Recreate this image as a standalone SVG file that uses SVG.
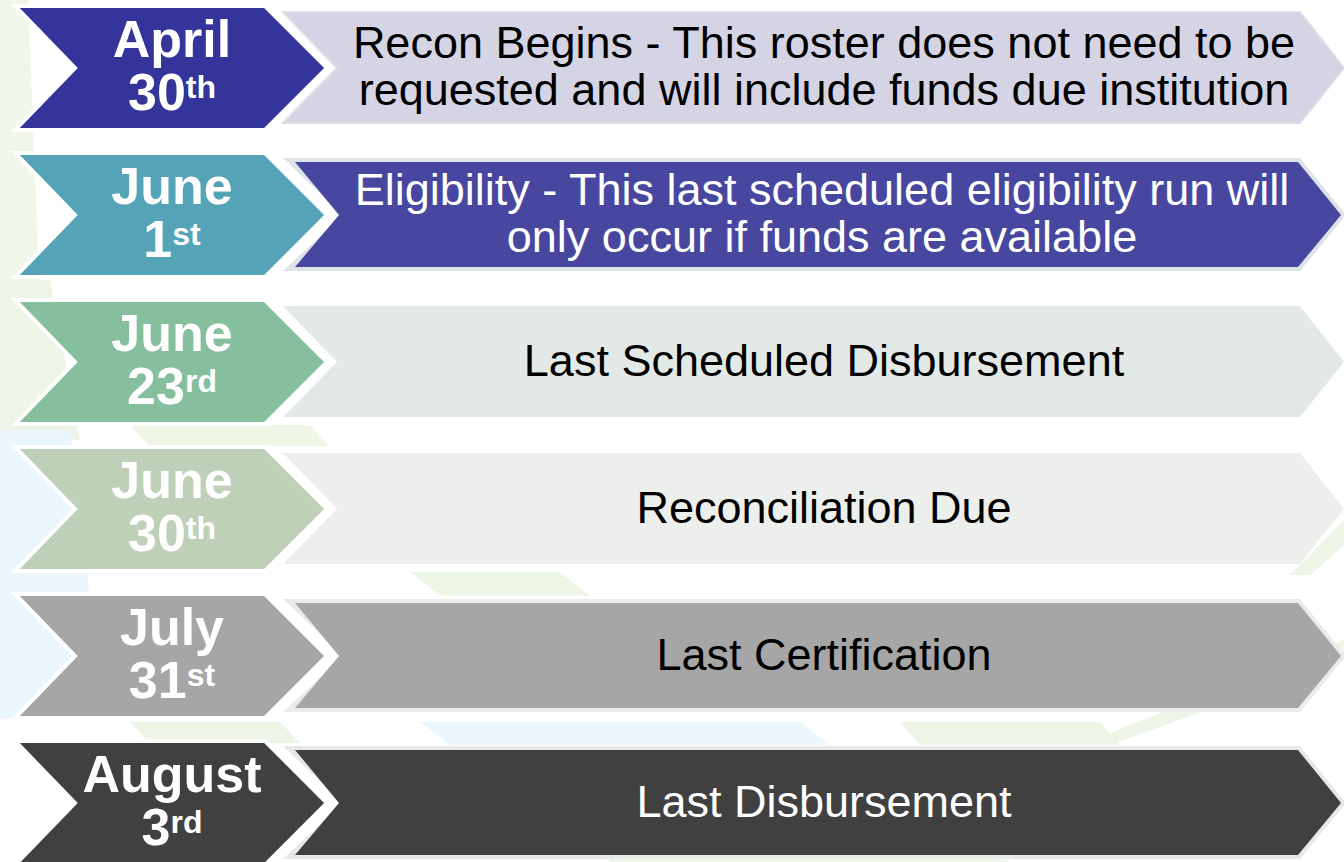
<svg xmlns="http://www.w3.org/2000/svg" width="1344" height="862" viewBox="0 0 1344 862">
<style>
.date{font-family:"Liberation Sans",Arial,sans-serif;font-weight:bold;font-size:52px;fill:#ffffff;text-anchor:middle}
.sup{font-size:32px}
.desc{font-family:"Liberation Sans",Arial,sans-serif;font-size:45px;text-anchor:middle}
.chev{stroke:#ffffff;stroke-width:4;stroke-linejoin:miter}
.bg{opacity:0.55}
</style>
<rect x="0" y="0" width="1344" height="862" fill="#ffffff"/>
<g id="background" class="bg">
  <polygon points="0,0 28,0 40,300 0,300" fill="#e4f0d6"/>
  <polygon points="0,280 50,280 80,440 0,440" fill="#dfeed3"/>
  <polygon points="0,430 70,430 90,600 0,600" fill="#dcf0fa"/>
  <polygon points="0,590 60,590 110,700 0,720" fill="#dcf0fa"/>
  <polygon points="130,425 310,425 330,446 150,446" fill="#e2efd2"/>
  <polygon points="410,572 560,572 590,596 440,596" fill="#dff0cf"/>
  <polygon points="130,722 280,722 300,743 150,743" fill="#e0efd3"/>
  <polygon points="420,722 800,722 830,745 450,745" fill="#dcf0fa"/>
  <polygon points="900,722 1100,722 1120,745 920,745" fill="#e0efd3"/>
  <polygon points="1080,745 1344,640 1344,660 1110,745" fill="#e0efd3"/>
  <polygon points="1290,575 1344,520 1344,545 1310,575" fill="#e0efd3"/>
  <polygon points="600,856 1000,856 1010,862 610,862" fill="#e0efd3"/>
</g>

<g id="row1">
  <path class="chev" d="M15,6 L265,6 L327,68 L265,130 L15,130 L75,68 Z" fill="#35349a"/>
  <path d="M283,12 L1300,12 L1344,68 L1300,123 L283,123 L337,68 Z" fill="#d4d4e4" stroke="#dcdce9" stroke-width="2"/>
  <text class="date" x="172" y="57">April</text>
  <text class="date" x="172" y="110">30<tspan class="sup" dy="-12">th</tspan></text>
  <text class="desc" x="824" y="58" fill="#000000">Recon Begins - This roster does not need to be</text>
  <text class="desc" x="824" y="105" fill="#000000">requested and will include funds due institution</text>
</g>

<g id="row2">
  <path class="chev" d="M15,153 L265,153 L327,215 L265,277 L15,277 L75,215 Z" fill="#55a3b6"/>
  <path d="M283,158 L1300,158 L1346,215 L1300,271 L283,271 L343,215 Z" fill="#dde3e6"/>
  <path d="M295,162 L1298,162 L1341,215 L1298,267 L295,267 L339,215 Z" fill="#4847a0"/>
  <text class="date" x="172" y="204">June</text>
  <text class="date" x="172" y="257">1<tspan class="sup" dy="-12">st</tspan></text>
  <text class="desc" x="822" y="205" fill="#ffffff">Eligibility - This last scheduled eligibility run will</text>
  <text class="desc" x="822" y="252" fill="#ffffff">only occur if funds are available</text>
</g>

<g id="row3">
  <path class="chev" d="M15,300 L265,300 L327,362 L265,424 L15,424 L75,362 Z" fill="#86bf9d"/>
  <path d="M283,306 L1300,306 L1344,362 L1300,417 L283,417 L337,362 Z" fill="#e3e9e7"/>
  <text class="date" x="172" y="351">June</text>
  <text class="date" x="172" y="404">23<tspan class="sup" dy="-12">rd</tspan></text>
  <text class="desc" x="824" y="376" fill="#000000">Last Scheduled Disbursement</text>
</g>

<g id="row4">
  <path class="chev" d="M15,447 L265,447 L327,509 L265,571 L15,571 L75,509 Z" fill="#bfd0b9"/>
  <path d="M283,453 L1300,453 L1344,509 L1300,564 L283,564 L337,509 Z" fill="#edefed"/>
  <text class="date" x="172" y="498">June</text>
  <text class="date" x="172" y="551">30<tspan class="sup" dy="-12">th</tspan></text>
  <text class="desc" x="824" y="523" fill="#000000">Reconciliation Due</text>
</g>

<g id="row5">
  <path class="chev" d="M15,594 L265,594 L327,656 L265,718 L15,718 L75,656 Z" fill="#a6a6a6"/>
  <path d="M283,599 L1300,599 L1346,656 L1300,712 L283,712 L343,656 Z" fill="#ebebeb"/>
  <path d="M295,603 L1298,603 L1341,656 L1298,708 L295,708 L339,656 Z" fill="#a6a6a6"/>
  <text class="date" x="172" y="645">July</text>
  <text class="date" x="172" y="698">31<tspan class="sup" dy="-12">st</tspan></text>
  <text class="desc" x="824" y="670" fill="#000000">Last Certification</text>
</g>

<g id="row6">
  <path class="chev" d="M15,741 L265,741 L327,803 L265,865 L15,865 L75,803 Z" fill="#404040"/>
  <path d="M283,746 L1300,746 L1346,803 L1300,859 L283,859 L343,803 Z" fill="#e8e8e8"/>
  <path d="M295,750 L1298,750 L1341,803 L1298,855 L295,855 L339,803 Z" fill="#404040"/>
  <text class="date" x="172" y="792">August</text>
  <text class="date" x="172" y="845">3<tspan class="sup" dy="-12">rd</tspan></text>
  <text class="desc" x="824" y="817" fill="#ffffff">Last Disbursement</text>
</g>

<g id="connectors"></g>
</svg>
